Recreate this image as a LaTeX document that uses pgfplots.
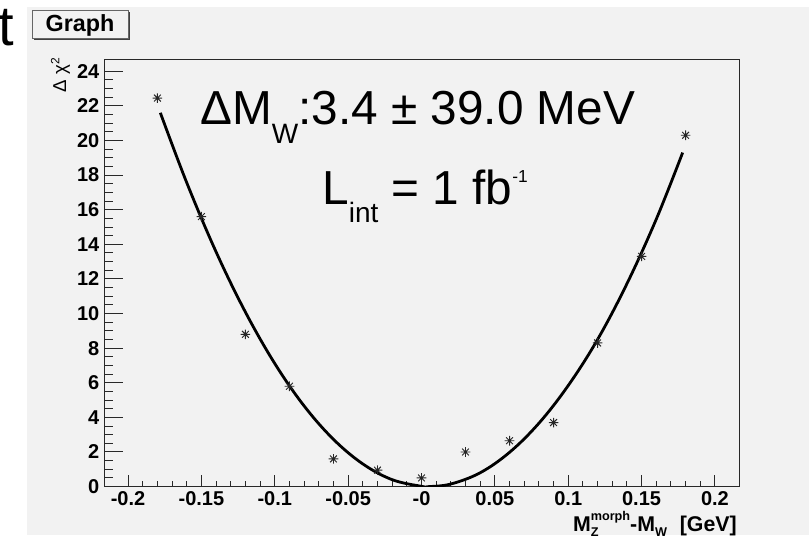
\documentclass[border=0pt]{standalone}
\usepackage{pgfplots}
\pgfplotsset{compat=1.18}
\usepackage{fontspec}
\setmainfont{Liberation Sans}

\definecolor{canvas}{RGB}{242,242,242}
\definecolor{framec}{RGB}{40,40,40}

% ROOT marker style 3: plus and cross together
\pgfdeclareplotmark{rootstar}{%
  \pgfpathmoveto{\pgfqpoint{-\pgfplotmarksize}{0pt}}%
  \pgfpathlineto{\pgfqpoint{\pgfplotmarksize}{0pt}}%
  \pgfpathmoveto{\pgfqpoint{0pt}{-\pgfplotmarksize}}%
  \pgfpathlineto{\pgfqpoint{0pt}{\pgfplotmarksize}}%
  \pgfpathmoveto{\pgfpointpolar{45}{\pgfplotmarksize}}%
  \pgfpathlineto{\pgfpointpolar{225}{\pgfplotmarksize}}%
  \pgfpathmoveto{\pgfpointpolar{135}{\pgfplotmarksize}}%
  \pgfpathlineto{\pgfpointpolar{315}{\pgfplotmarksize}}%
  \pgfusepathqstroke}

\pgfplotstableread{
x      dchi2
-0.18  22.45
-0.15  15.6
-0.12  8.8
-0.09  5.8
-0.06  1.6
-0.03  0.95
0.00   0.5
0.03   2.0
0.06   2.65
0.09   3.7
0.12   8.3
0.15   13.3
0.18   20.3
}\scanpoints

% fitted curve
\pgfplotstableread{
x       fit
-0.178  21.6
-0.16   17.56
-0.14   13.56
-0.12   10.08
-0.10   7.11
-0.08   4.66
-0.06   2.73
-0.04   1.31
-0.02   0.40
0.00    0.016
0.005   0.0
0.02    0.15
0.04    0.80
0.06    1.98
0.08    3.66
0.10    5.84
0.12    8.50
0.14    11.72
0.16    15.45
0.178   19.30
}\fitcurve

\pgfplotsset{
  rootframe/.style={
    at={(78pt,36.3pt)},
    anchor=south west,
    scale only axis,
    width=476.25pt,
    height=319.95pt,
    xmin=-0.2164, xmax=0.2164,
    ymin=0, ymax=24.65,
    tick align=inside,
    axis line style={draw=framec, line width=0.75pt},
    every tick/.style={draw=framec, line width=0.75pt},
    tick label style={font=\bfseries\fontsize{15}{17}\selectfont},
  }
}

\begin{document}
\begin{tikzpicture}
\useasboundingbox (0,0) rectangle (606.75pt,401.25pt);
\fill[canvas] (20.25pt,0) rectangle (606.75pt,396pt);

% left-over letter from the slide
\node[anchor=base west, inner sep=0, font=\fontsize{42}{42}\selectfont] at (-1pt,366.75pt) {t};

% "Graph" title box
\fill[black!75] (25.5pt,371.25pt) rectangle (97.5pt,392.25pt);
\filldraw[fill=canvas, draw=black!60, line width=0.6pt] (24pt,372.75pt) rectangle (96pt,393.75pt);
\node[font=\bfseries\fontsize{17.5}{18}\selectfont] at (60pt,382.5pt) {Graph};

%-----------------------------
% y ticks
%-----------------------------
\begin{axis}[
    rootframe,
    xtick=\empty,
    ytick={0,2,4,6,8,10,12,14,16,18,20,22,24},
    yticklabels={0,2,4,6,8,10,12,14,16,18,20,22,24},
    minor y tick num=3,
    ytick pos=left,
    major tick length=14.25pt,
    minor tick length=6.75pt,
]
\end{axis}

%-----------------------------
% x ticks and data
%-----------------------------
\begin{axis}[
    rootframe,
    ytick=\empty,
    xtick={-0.2,-0.15,-0.1,-0.05,0,0.05,0.1,0.15,0.2},
    xticklabels={-0.2,-0.15,-0.1,-0.05,-0,0.05,0.1,0.15,0.2},
    minor x tick num=4,
    xtick pos=left,
    major tick length=9pt,
    minor tick length=4.5pt,
]
\addplot[black, line width=2.1pt, smooth, tension=0.6] table[x=x, y=fit] {\fitcurve};
\addplot[only marks, mark=rootstar, mark size=3.6pt,
         mark options={draw=black!85, line width=0.7pt}] table[x=x, y=dchi2] {\scanpoints};
\end{axis}

% axis titles
\node[rotate=90, anchor=base east, inner sep=0, font=\fontsize{14}{14}\selectfont]
  at (49.5pt,357.75pt) {Δ χ\raisebox{5pt}{\fontsize{9}{9}\selectfont 2}};
\node[anchor=base east, inner sep=0, font=\bfseries\fontsize{16}{16}\selectfont]
  at (552.75pt,2.6pt)
  {M\rlap{\raisebox{-3.5pt}{\fontsize{9.5}{9.5}\selectfont Z}}\raisebox{8pt}{\fontsize{9.5}{9.5}\selectfont morph}-M\raisebox{-3.5pt}{\fontsize{9.5}{9.5}\selectfont W}\hspace{0.6em}[GeV]};

% fit result
\node[anchor=base west, inner sep=0, font=\fontsize{35.8}{36}\selectfont]
  at (150pt,307.5pt)
  {ΔM\raisebox{-13.7pt}{\fontsize{21}{21}\selectfont W}:3.4 ± 39.0 MeV};
\node[anchor=base west, inner sep=0, font=\fontsize{35.8}{36}\selectfont]
  at (241.5pt,247.5pt)
  {L\raisebox{-13.5pt}{\fontsize{21}{21}\selectfont int} = 1 fb\raisebox{16.5pt}{\fontsize{13}{13}\selectfont -1}};
\end{tikzpicture}
\end{document}
